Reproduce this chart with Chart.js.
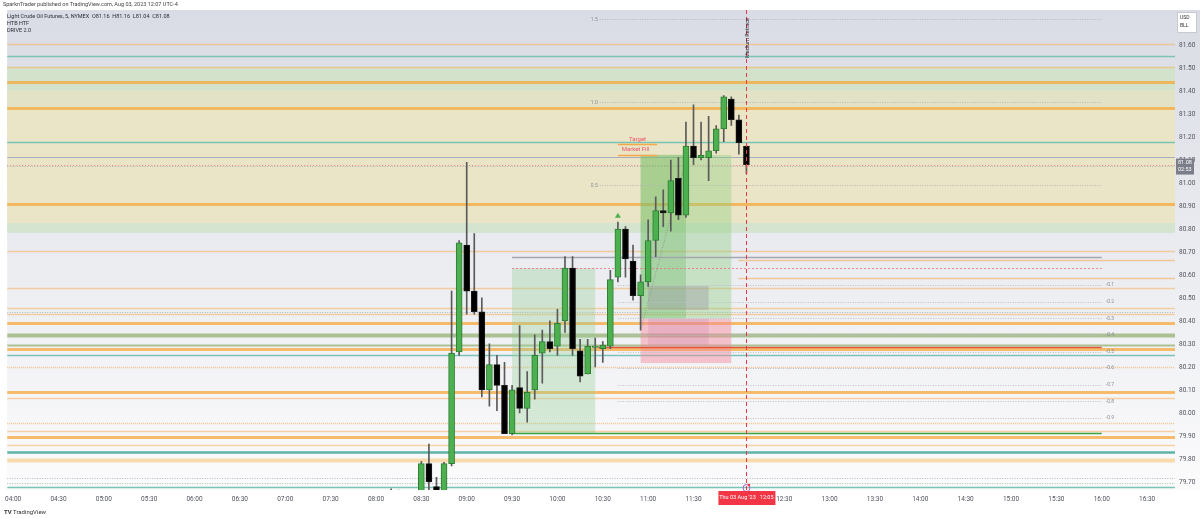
<!DOCTYPE html>
<html>
<head>
<meta charset="utf-8">
<script src="https://cdn.jsdelivr.net/npm/chart.js@4.4.1/dist/chart.umd.min.js"></script>
<style>
html, body { margin: 0; padding: 0; background: #fff; }
#wrap { position: relative; width: 1200px; height: 519px; overflow: hidden; }
canvas { position: absolute; left: 0; top: 0; }
.t { position: absolute; font-family: Roboto, "Noto Sans", sans-serif; color: #2a2e39; white-space: nowrap; line-height: 1; }
</style>
</head>
<body>
<div id="wrap">
  <canvas id="chart" width="1200" height="519"></canvas>
  <div class="t" style="left:3px;top:2px;font-size:5.5px;color:#444">SparknTrader published on TradingView.com, Aug 03, 2023 12:07 UTC-4</div>
  <div class="t" style="left:7px;top:14px;font-size:5.5px">Light Crude Oil Futures, 5, NYMEX&nbsp; O81.16&nbsp; H81.16&nbsp; L81.04&nbsp; C81.08</div>
  <div class="t" style="left:7px;top:21px;font-size:5.5px">HTB HTF</div>
  <div class="t" style="left:7px;top:28px;font-size:5.5px">DRIVE 2.0</div>
  <div class="t" style="left:4px;top:509px;font-size:6px;color:#333"><b>TV</b> TradingView</div>
</div>
<script>
// 5-minute candles, Aug 03 2023
const barTimes = ['08:10','08:15','08:20','08:25','08:30','08:35','08:40','08:45','08:50','08:55',
  '09:00','09:05','09:10','09:15','09:20','09:25','09:30','09:35','09:40','09:45','09:50','09:55',
  '10:00','10:05','10:10','10:15','10:20','10:25','10:30','10:35','10:40','10:45','10:50','10:55',
  '11:00','11:05','11:10','11:15','11:20','11:25','11:30','11:35','11:40','11:45','11:50','11:55',
  '12:00','12:05'];
const opens  = [79.62,79.64,79.61,79.58,79.62,79.78,79.68,79.64,79.78,80.265,
  80.73,80.53,80.44,80.10,80.21,80.12,79.91,80.11,80.02,80.10,80.26,80.31,
  80.29,80.40,80.63,80.27,80.17,80.285,80.28,80.29,80.59,80.80,80.66,80.51,
  80.57,80.75,80.88,80.87,81.02,80.86,81.16,81.11,81.11,81.14,81.235,81.365,
  81.275,81.16];
const highs  = [79.67,79.665,79.64,79.63,79.79,79.865,79.72,79.785,80.53,80.75,
  81.09,80.78,80.50,80.30,80.25,80.22,80.12,80.38,80.18,80.34,80.36,80.40,
  80.45,80.68,80.68,80.32,80.32,80.325,80.31,80.62,80.83,80.81,80.73,80.60,
  80.84,80.94,80.97,81.10,81.11,81.265,81.34,81.265,81.29,81.25,81.38,81.375,
  81.295,81.16];
const lows   = [79.57,79.58,79.55,79.55,79.60,79.64,79.60,79.62,79.77,80.25,
  80.43,80.43,80.07,80.03,80.01,79.91,79.905,80.00,79.96,80.06,80.13,80.265,
  80.25,80.35,80.25,80.135,80.17,80.20,80.22,80.28,80.57,80.59,80.49,80.36,
  80.55,80.68,80.81,80.79,80.84,80.85,81.08,81.10,81.01,81.13,81.18,81.25,
  81.125,81.04];
const closes = [79.64,79.61,79.58,79.62,79.78,79.70,79.64,79.78,80.26,80.74,
  80.53,80.44,80.10,80.21,80.12,79.91,80.10,80.02,80.09,80.25,80.31,80.28,
  80.39,80.63,80.28,80.16,80.29,80.29,80.295,80.58,80.80,80.67,80.51,80.57,
  80.75,80.88,80.87,81.01,80.86,81.16,81.11,81.12,81.14,81.235,81.375,81.275,
  81.175,81.08];

// right axis ticks
const priceTicks = [79.70,79.80,79.90,80.00,80.10,80.20,80.30,80.40,80.50,80.60,
  80.70,80.80,80.90,81.00,81.10,81.20,81.30,81.40,81.50,81.60];
const timeTicks = ['04:00','04:30','05:00','05:30','06:00','06:30','07:00','07:30','08:00','08:30',
  '09:00','09:30','10:00','10:30','11:00','11:30','12:30','13:00','13:30','14:00',
  '14:30','15:00','15:30','16:00','16:30'];

// indicator levels (prices)
const orangeThinLevels = [81.604, 81.505, 80.704, 80.543, 80.457, 80.430, 80.065, 79.922, 79.861];
const orangeThickLevels = [81.439, 81.326, 80.909, 80.391, 80.278, 80.091, 79.896];
const paleOrangeLevels = [79.796];
const tealLevels = [81.552, 81.178, 80.252, 79.678];
const tealThickLevels = [79.830];
const oliveLevels = [80.337, 80.296];
const greyLevels = [81.113];
const greyDottedLevels = [81.075, 80.439, 79.717, 79.696];
const orangeDottedLevels = [80.200, 79.957];
const rightSideLevels = [80.665, 80.587];

// zones [low, high]
const greenZoneTop = [81.404, 81.505];
const paleZone = [81.326, 81.404];
const yellowZone = [80.826, 81.326];
const greenZoneLow = [80.783, 80.826];

// drawings: [fromTime, toTime, lowPrice, highPrice]
const boxPrior = ['09:30', '10:25', 79.913, 80.630];
const boxProfit = ['10:55', '11:55', 80.410, 81.122];
const boxProfitInner = ['10:55', '11:25', 80.410, 81.122];
const boxLoss = ['10:55', '11:55', 80.217, 80.409];
const boxLossInner = ['11:00', '11:40', 80.296, 80.409];
const boxGrey = ['11:00', '11:40', 80.448, 80.552];
// segments: [fromTime, toTime, price]
const rangeHigh = ['09:30', '16:00', 80.678];
const rangeMid = ['09:30', '16:00', 80.630];
const rangeLow = ['09:30', '16:00', 79.913];
const fillLine = ['10:27', '16:00', 80.287];
const targetLine = ['10:40', '11:06', 81.170];
const marketFillLine = ['10:40', '11:06', 81.122];
const trendDots = [['10:55', 80.36], ['11:25', 81.10]];
// fib retracement
const fibZero = 80.628;
const fibOne = 81.350;
const fibUpper = [1.5, 1.0, 0.5];
const fibLower = [-0.1, -0.2, -0.3, -0.4, -0.5, -0.6, -0.7, -0.8, -0.9];
const signalTime = '10:40';
const signalPrice = 80.857;
const cursorTime = '12:05';
const lastPrice = 81.08;

function idx(t) {
  const [h, m] = t.split(':').map(Number);
  return (h * 60 + m - 240) / 5;
}
function timeLabel(i) {
  const mins = 240 + i * 5;
  const h = Math.floor(mins / 60), m = mins % 60;
  return String(h).padStart(2, '0') + ':' + String(m).padStart(2, '0');
}

const UP = '#4caf50', UP_EDGE = '#2e7d32', DOWN = '#000000', DOWN_EDGE = '#1a1a1a';
const isUp = closes.map((c, i) => c >= opens[i]);

const wickData = barTimes.map((t, i) => ({x: idx(t), y: [lows[i], highs[i]]}));
const bodyData = barTimes.map((t, i) => {
  let lo = Math.min(opens[i], closes[i]), hi = Math.max(opens[i], closes[i]);
  if (hi - lo < 0.006) hi = lo + 0.006;
  return {x: idx(t), y: [lo, hi]};
});

const overlay = {
  id: 'overlay',
  beforeDraw(chart) {
    const {ctx, chartArea: a} = chart;
    ctx.save();
    const g = ctx.createLinearGradient(0, a.top, 0, a.bottom);
    g.addColorStop(0, '#d9dce4');
    g.addColorStop(1, '#fbfbfc');
    ctx.fillStyle = g;
    ctx.fillRect(a.left, a.top, 1200 - a.left, a.bottom - a.top);
    ctx.restore();
  },
  beforeDatasetsDraw(chart) {
    const {ctx, chartArea: a, scales: {x, y}} = chart;
    const px = v => x.getPixelForValue(v), py = v => y.getPixelForValue(v);
    ctx.save();
    ctx.beginPath();
    ctx.rect(a.left, a.top, a.right - a.left, a.bottom - a.top);
    ctx.clip();
    const zone = (z, c) => { ctx.fillStyle = c; ctx.fillRect(a.left, py(z[1]), a.right - a.left, py(z[0]) - py(z[1])); };
    zone(greenZoneTop, '#d3e2cb');
    zone(paleZone, '#e1e2c6');
    zone(yellowZone, '#eae5c6');
    zone(greenZoneLow, '#d4e4cf');

    const hline = (p, c, w, dash, x0, x1) => {
      ctx.beginPath();
      ctx.strokeStyle = c; ctx.lineWidth = w; ctx.setLineDash(dash || []);
      ctx.moveTo(x0 === undefined ? a.left : x0, Math.round(py(p)) + 0.5);
      ctx.lineTo(x1 === undefined ? a.right : x1, Math.round(py(p)) + 0.5);
      ctx.stroke();
    };
    orangeThinLevels.forEach(p => hline(p, 'rgba(245,175,95,0.55)', 1.5));
    orangeThickLevels.forEach(p => hline(p, 'rgba(245,168,60,0.75)', 3));
    paleOrangeLevels.forEach(p => hline(p, 'rgba(250,205,140,0.7)', 4));
    tealLevels.forEach(p => hline(p, '#7cc3b7', 1.5));
    tealThickLevels.forEach(p => hline(p, '#5db3a6', 2.5));
    oliveLevels.forEach((p, i) => hline(p, 'rgba(150,175,115,0.75)', i === 0 ? 4 : 2));
    greyLevels.forEach(p => hline(p, '#a7adbd', 1));
    greyDottedLevels.forEach(p => hline(p, '#b3b6be', 1, [1, 1.5]));
    orangeDottedLevels.forEach(p => hline(p, 'rgba(245,175,95,0.7)', 1.5, [1, 1]));
    rightSideLevels.forEach(p => hline(p, 'rgba(245,175,95,0.6)', 1.5, null, px(idx(cursorTime)) - 8));
    hline(lastPrice, 'rgba(242,54,69,0.55)', 1, [1, 2]);

    const box = (b, c) => {
      ctx.fillStyle = c;
      ctx.fillRect(px(idx(b[0])), py(b[3]), px(idx(b[1])) - px(idx(b[0])), py(b[2]) - py(b[3]));
    };
    box(boxPrior, 'rgba(150,205,150,0.35)');
    box(boxProfit, 'rgba(140,205,125,0.38)');
    box(boxProfitInner, 'rgba(90,175,80,0.28)');
    box(boxLoss, 'rgba(245,135,155,0.45)');
    box(boxLossInner, 'rgba(200,120,170,0.22)');
    box(boxGrey, 'rgba(160,160,165,0.45)');

    const seg = (s, c, w, dash) => hline(s[2], c, w, dash, px(idx(s[0])), px(idx(s[1])));
    seg(rangeHigh, '#a3a6ae', 1.5);
    seg(rangeMid, 'rgba(240,110,125,0.8)', 1, [2, 2]);
    seg(rangeLow, '#3ba544', 1.5);
    seg(fillLine, '#e0553c', 1.5);
    seg(targetLine, '#f5a94a', 1.5);
    seg(marketFillLine, '#f5a94a', 1.5);

    // fib levels
    ctx.font = '5px Roboto, sans-serif';
    ctx.fillStyle = '#8a8d95';
    const fibEnd = px(idx('16:00'));
    fibUpper.forEach(k => {
      const p = fibZero + (fibOne - fibZero) * k;
      hline(p, '#b3b6be', 1, [1, 1.5], px(idx('10:28')), fibEnd);
      ctx.textAlign = 'right'; ctx.textBaseline = 'middle';
      ctx.fillText(k.toFixed(1), px(idx('10:28')) - 2, py(p));
    });
    fibLower.forEach(k => {
      const p = fibZero + (fibOne - fibZero) * k;
      hline(p, '#bcbfc6', 1, [1, 1.5], px(idx('10:40')), fibEnd);
      ctx.textAlign = 'left'; ctx.textBaseline = 'middle';
      ctx.fillText(k.toFixed(1), fibEnd + 4, py(p));
    });

    // dotted trend
    ctx.beginPath();
    ctx.setLineDash([1, 1.5]); ctx.strokeStyle = '#8f9a8f'; ctx.lineWidth = 1;
    ctx.moveTo(px(idx(trendDots[0][0])), py(trendDots[0][1]));
    ctx.lineTo(px(idx(trendDots[1][0])), py(trendDots[1][1]));
    ctx.stroke();
    ctx.setLineDash([]);

    // labels
    ctx.font = '6px Roboto, sans-serif';
    ctx.fillStyle = '#f0546a';
    ctx.textAlign = 'center'; ctx.textBaseline = 'bottom';
    const midT = (px(idx(targetLine[0])) + px(idx(targetLine[1]))) / 2;
    ctx.fillText('Target', midT, py(targetLine[2]) - 1);
    ctx.fillText('Market Fill', midT - 2, py(marketFillLine[2]) - 2);
    ctx.restore();
  },
  afterDatasetsDraw(chart) {
    const {ctx, chartArea: a, scales: {x, y}} = chart;
    const px = v => x.getPixelForValue(v), py = v => y.getPixelForValue(v);
    ctx.save();
    // signal triangle
    const tx = px(idx(signalTime)), ty = py(signalPrice);
    ctx.fillStyle = '#4caf50';
    ctx.beginPath();
    ctx.moveTo(tx, ty - 3); ctx.lineTo(tx + 3, ty + 2); ctx.lineTo(tx - 3, ty + 2); ctx.closePath();
    ctx.fill();
    // cursor line
    const cx = Math.round(px(idx(cursorTime))) + 0.5;
    ctx.strokeStyle = '#f23645'; ctx.lineWidth = 1; ctx.setLineDash([4, 3]);
    ctx.beginPath(); ctx.moveTo(cx, a.top); ctx.lineTo(cx, a.bottom); ctx.stroke();
    ctx.setLineDash([]);
    ctx.save();
    ctx.translate(cx + 1, a.top + 28);
    ctx.rotate(-Math.PI / 2);
    ctx.font = '5.5px Roboto, sans-serif';
    ctx.fillStyle = '#2a2e39'; ctx.textAlign = 'center'; ctx.textBaseline = 'middle';
    ctx.fillText('Medium Retrace', 0, 0);
    ctx.restore();
    // event marker
    ctx.strokeStyle = '#b65fc8'; ctx.lineWidth = 1;
    ctx.beginPath(); ctx.arc(cx, a.bottom - 2, 3.5, 0, Math.PI * 2); ctx.stroke();
    ctx.fillStyle = '#f23645';
    ctx.beginPath(); ctx.arc(cx + 2.5, a.bottom - 5, 1.2, 0, Math.PI * 2); ctx.fill();
    ctx.restore();
  },
  afterDraw(chart) {
    const {ctx, chartArea: a, scales: {x, y}} = chart;
    ctx.save();
    // last price badge
    const ly = y.getPixelForValue(lastPrice);
    ctx.fillStyle = '#7b7e88';
    ctx.fillRect(a.right + 1, ly - 6, 18, 16);
    ctx.fillStyle = '#fff';
    ctx.font = '5.5px Roboto, sans-serif'; ctx.textAlign = 'left'; ctx.textBaseline = 'middle';
    ctx.fillText(lastPrice.toFixed(2), a.right + 3, ly - 2);
    ctx.fillText('02:53', a.right + 3, ly + 5);
    // currency box
    ctx.fillStyle = '#fff'; ctx.strokeStyle = '#c8cad0';
    ctx.fillRect(a.right + 2, a.top + 2, 19, 20);
    ctx.strokeRect(a.right + 2.5, a.top + 2.5, 19, 20);
    ctx.fillStyle = '#333'; ctx.font = '5px Roboto, sans-serif';
    ctx.fillText('USD', a.right + 5, a.top + 8);
    ctx.fillText('BLL', a.right + 5, a.top + 16);
    // time cursor label
    const cx = x.getPixelForValue(idx(cursorTime));
    ctx.fillStyle = '#f23645';
    ctx.fillRect(cx - 28, a.bottom + 1, 57, 14);
    ctx.fillStyle = '#fff'; ctx.font = '5.5px Roboto, sans-serif'; ctx.textAlign = 'center';
    ctx.fillText("Thu 03 Aug '23   12:05", cx, a.bottom + 8);
    ctx.restore();
  }
};

new Chart(document.getElementById('chart'), {
  type: 'bar',
  data: {
    datasets: [
      {
        label: 'body',
        data: bodyData,
        backgroundColor: isUp.map(u => u ? UP : DOWN),
        borderColor: isUp.map(u => u ? UP_EDGE : DOWN_EDGE),
        borderWidth: 1,
        borderSkipped: false,
        barThickness: 6,
        grouped: false,
        order: 0
      },
      {
        label: 'wick',
        data: wickData,
        backgroundColor: '#5a5a5a',
        borderWidth: 0,
        barThickness: 1,
        grouped: false,
        order: 1
      }
    ]
  },
  options: {
    responsive: false,
    animation: false,
    layout: {padding: {left: 4, top: 10, right: 0, bottom: 9}},
    plugins: {legend: {display: false}, tooltip: {enabled: false}},
    scales: {
      x: {
        type: 'linear',
        offset: false,
        min: -0.79,
        max: 153.69,
        grid: {display: false, drawTicks: false},
        border: {display: false},
        afterBuildTicks: s => { s.ticks = timeTicks.map(t => ({value: idx(t)})); },
        afterFit: s => { s.height = 20; },
        ticks: {
          autoSkip: false, maxRotation: 0, padding: 5,
          color: '#50535e', font: {family: 'Roboto', size: 6.5},
          callback: v => timeLabel(v)
        }
      },
      y: {
        position: 'right',
        min: 79.665,
        max: 81.752,
        grid: {display: false, drawTicks: false},
        border: {display: false},
        afterBuildTicks: s => { s.ticks = priceTicks.map(v => ({value: v})); },
        afterFit: s => { s.width = 25; },
        ticks: {
          padding: 4,
          color: '#50535e', font: {family: 'Roboto', size: 6.5},
          callback: v => Number(v).toFixed(2)
        }
      }
    }
  },
  plugins: [overlay]
});
</script>
</body>
</html>
